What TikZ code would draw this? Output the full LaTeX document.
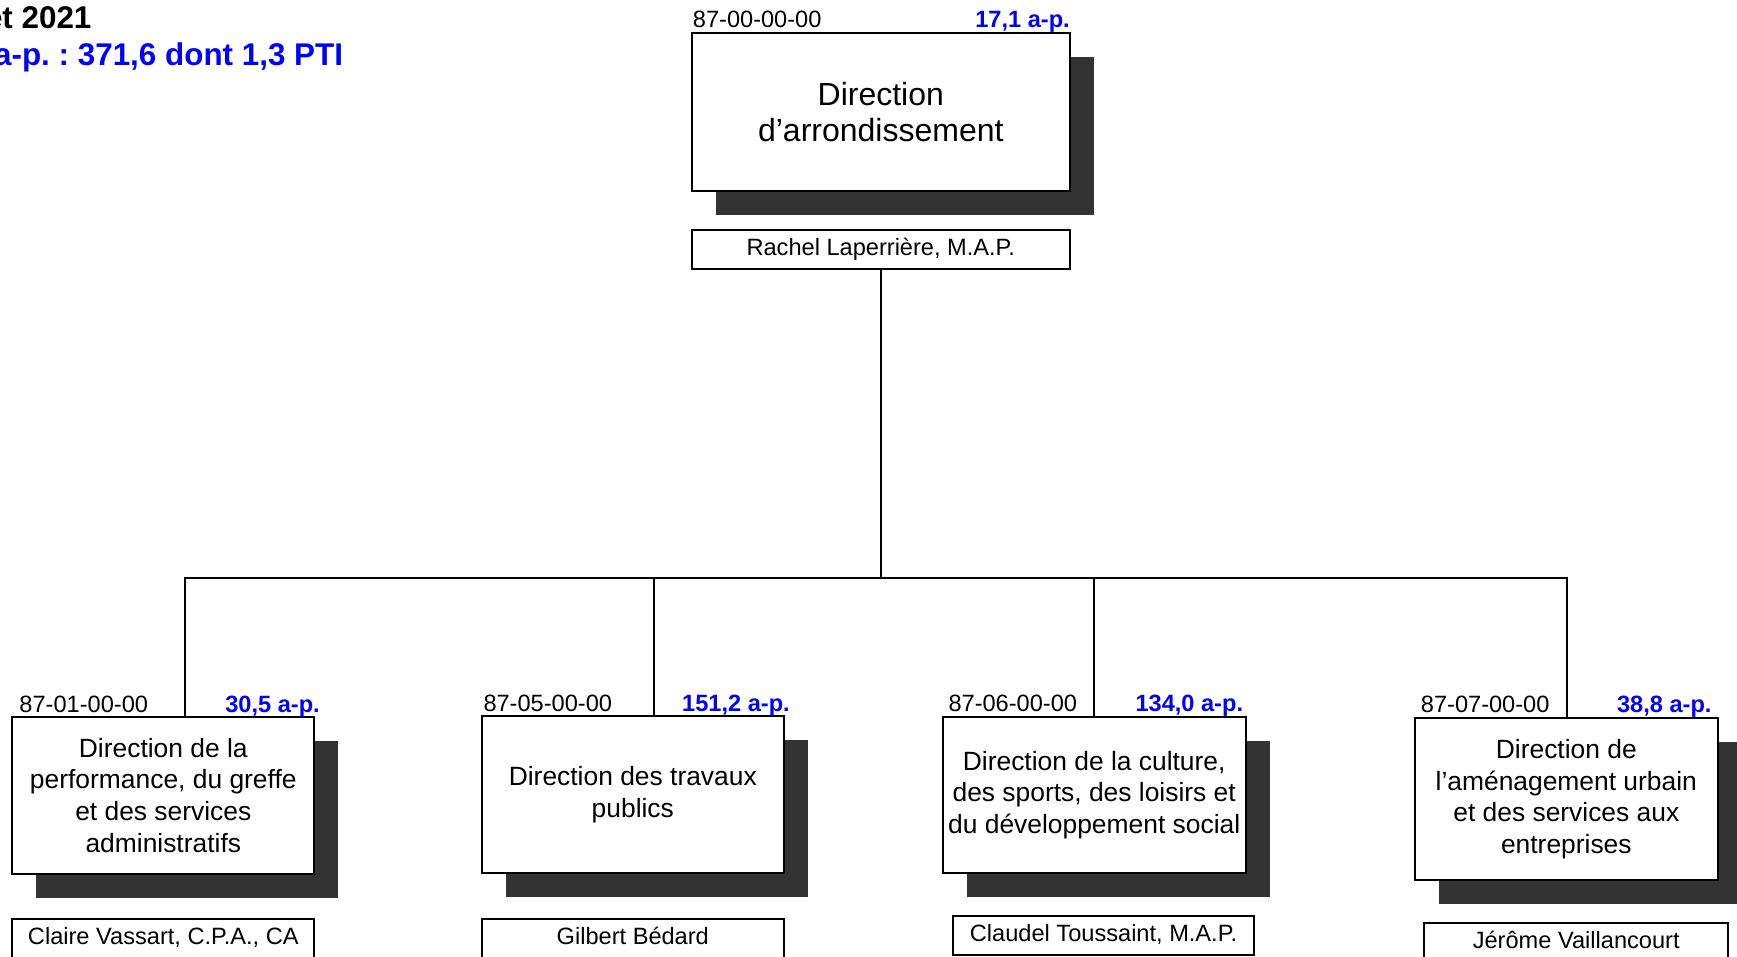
\documentclass[tikz,border=0pt]{standalone}
\usepackage{fontspec}
\setmainfont{Liberation Sans}
\usetikzlibrary{shadows}
\definecolor{shadowc}{RGB}{51,51,51}
\definecolor{apblue}{RGB}{0,0,255}
\newcommand\fsCode{\fontsize{23.6}{28}\selectfont}
\newcommand\fsBig{\fontsize{32}{36.7}\selectfont}
\newcommand\fsMid{\fontsize{26.4}{31.6}\selectfont}
\newcommand\fsTitle{\fontsize{31.4}{36}\selectfont\bfseries}
\frenchspacing
\begin{document}
\begin{tikzpicture}[x=1pt,y=-1pt,
  unitbox/.style={draw, line width=1.9pt, fill=white, inner sep=0pt, align=center,
    drop shadow={shadow xshift=24pt, shadow yshift=-24pt, fill=shadowc, opacity=1}},
  namebox/.style={draw, line width=1.9pt, fill=white, inner sep=0pt, anchor=north,
    font=\fsCode, text height=25.5pt, text depth=13.5pt},
  codelbl/.style={anchor=base west, inner sep=0pt, font=\fsCode},
  aplbl/.style={anchor=base east, inner sep=0pt, font=\fsCode\bfseries, text=apblue},
  conn/.style={draw, line width=2pt}
]
\useasboundingbox (0,0) rectangle (1737,956);
\clip (0,0) rectangle (1737,956);

% title
\node[anchor=base east, inner sep=0pt, font=\fsTitle] (t1) at (91.7,28) {et 2021};
\node[anchor=base east, inner sep=0pt, font=\fsTitle, text=apblue] (t2) at (343.3,65) {a-p.\ : 371,6 dont 1,3 PTI};

% top unit
\node[unitbox, minimum width=378.3pt, minimum height=157.7pt, font=\fsBig] (top) at (880.8,112.2) {Direction\\d’arrondissement};
\node[codelbl] (c0) at (692.7,27) {87-00-00-00};
\node[aplbl] (a0) at (1070,27) {17,1 a-p.};
\node[namebox, minimum width=378.3pt] (rl) at (880.8,228.7) {Rachel Laperrière, M.A.P.};

% bottom units
\node[unitbox, minimum width=302pt, minimum height=157.3pt, font=\fsMid] (b1) at (163.3,795.3) {Direction de la\\performance, du greffe\\et des services\\administratifs};
\node[unitbox, minimum width=302.3pt, minimum height=157.3pt, font=\fsMid] (b2) at (632.8,794.7) {Direction des travaux\\publics};
\node[unitbox, minimum width=303pt, minimum height=156.6pt, font=\fsMid] (b3) at (1094.2,795) {Direction de la culture,\\des sports, des loisirs et\\du développement social};
\node[unitbox, minimum width=302.7pt, minimum height=161.7pt, font=\fsMid] (b4) at (1566.3,799.2) {Direction de\\l’aménagement urbain\\et des services aux\\entreprises};

\node[codelbl] (c1) at (19.3,712.3) {87-01-00-00};
\node[aplbl] (a1) at (320,712.3) {30,5 a-p.};
\node[codelbl] (c2) at (483.3,711.7) {87-05-00-00};
\node[aplbl] (a2) at (790,711.7) {151,2 a-p.};
\node[codelbl] (c3) at (948.3,711.7) {87-06-00-00};
\node[aplbl] (a3) at (1243.3,711.7) {134,0 a-p.};
\node[codelbl] (c4) at (1420.7,712.3) {87-07-00-00};
\node[aplbl] (a4) at (1711.7,712.3) {38,8 a-p.};

\node[namebox, minimum width=302pt] (n1) at (163.3,918.3) {Claire Vassart, C.P.A., CA};
\node[namebox, minimum width=302.3pt] (n2) at (632.8,917.7) {Gilbert Bédard};
\node[namebox, minimum width=301.6pt] (n3) at (1103.5,915) {Claudel Toussaint, M.A.P.};
\node[namebox, minimum width=304.3pt] (n4) at (1576.2,921.7) {Jérôme Vaillancourt};

% connectors
\coordinate (busmid) at (880.8,577.5);
\coordinate (d1) at (185,577.5);
\coordinate (d2) at (654,577.5);
\coordinate (d3) at (1094,577.5);
\coordinate (d4) at (1566.7,577.5);
\draw[conn] (rl.south) -- (busmid);
\draw[conn] (b1.north -| d1) -- (d1) -- (d4) -- (b4.north -| d4);
\draw[conn] (d2) -- (b2.north -| d2);
\draw[conn] (d3) -- (b3.north -| d3);
\end{tikzpicture}
\end{document}
